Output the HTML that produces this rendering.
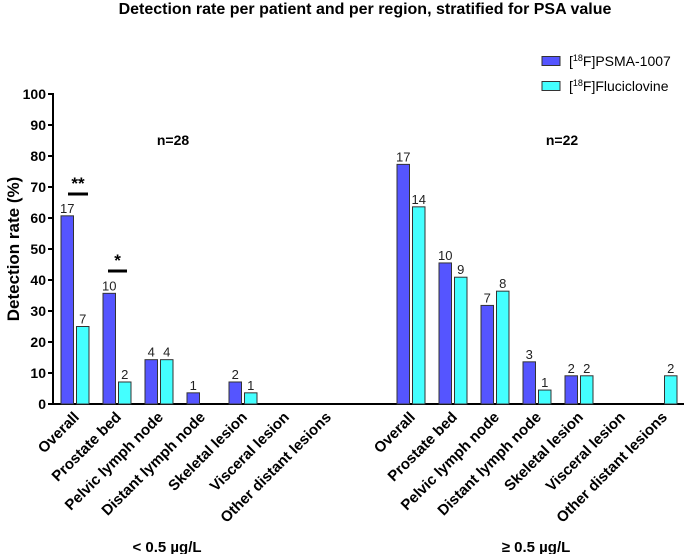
<!DOCTYPE html>
<html><head><meta charset="utf-8"><style>
body{margin:0;background:#fff;}
svg{display:block;font-family:"Liberation Sans",sans-serif;}
</style></head><body>
<svg id="chart" width="685" height="554" xmlns="http://www.w3.org/2000/svg">
<text x="365" y="14" text-anchor="middle" font-size="16" font-weight="bold">Detection rate per patient and per region, stratified for PSA value</text>
<g>
<rect x="542" y="56.5" width="18" height="9" fill="#5555ff" stroke="#333"/>
<text x="569" y="66" font-size="14">[<tspan font-size="9" dy="-5">18</tspan><tspan dy="5">F]PSMA-1007</tspan></text>
<rect x="542" y="81.5" width="18" height="9" fill="#44ffff" stroke="#333"/>
<text x="569" y="91" font-size="14">[<tspan font-size="9" dy="-5">18</tspan><tspan dy="5">F]Fluciclovine</tspan></text>
</g>
<text transform="translate(19,249) rotate(-90)" text-anchor="middle" font-size="17" font-weight="bold">Detection rate (%)</text>
<text x="173" y="145" text-anchor="middle" font-size="14" font-weight="bold">n=28</text>
<text x="562" y="145" text-anchor="middle" font-size="14" font-weight="bold">n=22</text>
<g>
<line x1="68" y1="194" x2="88" y2="194" stroke="#000" stroke-width="3"/>
<text x="78" y="189" text-anchor="middle" font-size="17" font-weight="bold">**</text>
</g>
<g>
<line x1="108" y1="271" x2="127" y2="271" stroke="#000" stroke-width="3"/>
<text x="117.5" y="266" text-anchor="middle" font-size="17" font-weight="bold">*</text>
</g>
<text x="167" y="552" text-anchor="middle" font-size="15" font-weight="bold">&lt; 0.5 µg/L</text>
<text x="536" y="552" text-anchor="middle" font-size="15" font-weight="bold">≥ 0.5 µg/L</text>
<g id="axes"></g>
<g id="bars"></g>
</svg>
<script>
const categories = ["Overall","Prostate bed","Pelvic lymph node","Distant lymph node","Skeletal lesion","Visceral lesion","Other distant lesions"];
const yTicks = [0,10,20,30,40,50,60,70,80,90,100];
const psmaLow = [60.7,35.7,14.3,3.6,7.1,0,0];
const flucLow = [25.0,7.1,14.3,0,3.6,0,0];
const psmaLowN = ["17","10","4","1","2","",""];
const flucLowN = ["7","2","4","","1","",""];
const psmaHigh = [77.3,45.5,31.8,13.6,9.1,0,0];
const flucHigh = [63.6,40.9,36.4,4.5,9.1,0,9.1];
const psmaHighN = ["17","10","7","3","2","",""];
const flucHighN = ["14","9","8","1","2","","2"];

const NS="http://www.w3.org/2000/svg";
const y0=404, y100=94, axX=53;
function yS(v){return y0-(y0-y100)*v/100;}
function xS(group,i){return (group===0?75:411)+42*i;}
const axes=document.getElementById('axes');
const bars=document.getElementById('bars');
function mk(tag,attrs,parent){const e=document.createElementNS(NS,tag);for(const k in attrs)e.setAttribute(k,attrs[k]);parent.appendChild(e);return e;}

let yl=mk('line',{x1:axX,y1:y100-1,x2:axX,y2:y0,stroke:'#000','stroke-width':2},axes);


let xl=mk('line',{x1:axX-1,y1:y0,x2:684,y2:y0,stroke:'#000','stroke-width':2},axes);


yTicks.forEach(t=>{
  const tk=mk('line',{x1:axX-5,y1:yS(t),x2:axX,y2:yS(t),stroke:'#000','stroke-width':2},axes);
  
  
  const tl=mk('text',{x:axX-7,y:yS(t)+5,'text-anchor':'end','font-size':14,'font-weight':'bold'},axes);
  tl.textContent=t;
  
  
});
function drawGroup(g,ps,fl,psN,flN){
  categories.forEach((c,i)=>{
    const cx=xS(g,i);
    [[ps[i],psN[i],'#5555ff',cx-14],[fl[i],flN[i],'#44ffff',cx+1.5]].forEach((d,j)=>{
      const v=d[0];
      if(v>0){
        const r=mk('rect',{x:d[3],y:yS(v),width:12.5,height:y0-yS(v),fill:d[2],stroke:'#333','stroke-width':1},bars);
        
        
      }
      if(d[1]){
        const t=mk('text',{x:d[3]+6.25,y:yS(v)-3,'text-anchor':'middle','font-size':13,fill:'#222'},bars);
        t.textContent=d[1];
        
        
      }
    });
    const lx=cx+5, ly=y0+14;
    const lab=mk('text',{x:lx,y:ly,'text-anchor':'end','font-size':15,'font-weight':'bold',transform:`rotate(-45 ${lx} ${ly})`},axes);
    lab.textContent=c;
    
    
  });
}
drawGroup(0,psmaLow,flucLow,psmaLowN,flucLowN);
drawGroup(1,psmaHigh,flucHigh,psmaHighN,flucHighN);
</script>
</body></html>
